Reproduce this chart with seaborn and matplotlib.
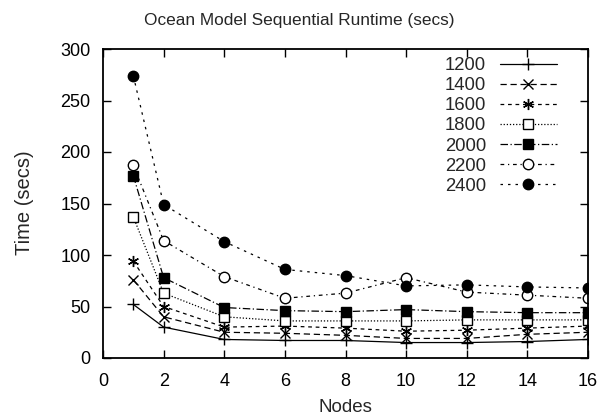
import matplotlib
matplotlib.use("Agg")
import matplotlib.pyplot as plt
import seaborn as sns
import pandas as pd

nodes = [1, 2, 4, 6, 8, 10, 12, 14, 16]
s1200 = [52, 30, 18, 17, 17, 15, 15, 16, 18]
s1400 = [76, 40, 25, 24, 22, 19, 19, 23, 25]
s1600 = [94, 50, 30, 31, 29, 26, 27, 29, 31]
s1800 = [137, 63, 40, 36, 36, 36, 37, 37, 37]
s2000 = [177, 78, 49, 46, 45, 47, 45, 44, 44]
s2200 = [187, 114, 79, 58, 63, 78, 64, 61, 58]
s2400 = [274, 149, 113, 86, 80, 70, 71, 69, 68]
series_names = ["1200", "1400", "1600", "1800", "2000", "2200", "2400"]
series_values = [s1200, s1400, s1600, s1800, s2000, s2200, s2400]

sns.set_theme(style="ticks")
plt.rcParams["font.family"] = ["Liberation Sans", "DejaVu Sans"]

W, H = 602, 417
L, R, T, B = 103, 588, 49, 358
fig = plt.figure(figsize=(W / 100, H / 100), dpi=100)
ax = fig.add_axes([L / W, 1 - B / H, (R - L) / W, (B - T) / H])

styles = [
    dict(marker="+", linestyle="-", ms=9, mfc="black"),
    dict(marker="x", linestyle=(0, (5, 3)), ms=7, mfc="black"),
    dict(marker=(6, 2, 0), linestyle=(0, (3, 3)), ms=8, mfc="black"),
    dict(marker="s", linestyle=(0, (1, 1.5)), ms=7.5, mfc="white"),
    dict(marker="s", linestyle=(0, (6, 2, 1, 2)), ms=7.5, mfc="black"),
    dict(marker="o", linestyle=(0, (3, 3, 1, 3)), ms=7.5, mfc="white"),
    dict(marker="o", linestyle=(0, (2, 4, 2, 4)), ms=7.5, mfc="black"),
]

for name, vals, st in zip(series_names, series_values, styles):
    df = pd.DataFrame({"Nodes": nodes, "Time": vals})
    sns.lineplot(data=df, x="Nodes", y="Time", ax=ax, color="black",
                 marker=st["marker"], linestyle=st["linestyle"],
                 markersize=st["ms"], markerfacecolor=st["mfc"],
                 markeredgecolor="black", markeredgewidth=1.0,
                 linewidth=0.9, legend=False)

ax.set_xlim(0, 16)
ax.set_ylim(0, 300)
ax.set_xticks(range(0, 17, 2))
ax.set_yticks(range(0, 301, 50))
ax.tick_params(direction="in", top=True, right=True, length=6, width=1,
               labelsize=13, colors="black")
ax.tick_params(axis="x", pad=11)
ax.tick_params(axis="y", pad=9)
for sp in ax.spines.values():
    sp.set_visible(True)
    sp.set_linewidth(1.3)
    sp.set_color("black")

ax.set_xlabel("Nodes", fontsize=13.5)
ax.set_ylabel("Time (secs)", fontsize=14.5)
ax.xaxis.set_label_coords(0.5, (B - 408) / (B - T))
ax.xaxis.label.set_va("center")
ax.yaxis.set_label_coords((24 - L) / (R - L), (B - 203) / (B - T))
ax.yaxis.label.set_va("center")
ax.yaxis.label.set_ha("center")

fig.text(299 / W, 1 - 20 / H, "Ocean Model Sequential Runtime (secs)",
         ha="center", va="center", fontsize=12.4)

lines = ax.get_lines()[:len(series_names)]
leg = ax.legend(lines, series_names, loc="upper right", frameon=False,
                markerfirst=False, fontsize=13.3, numpoints=1,
                handlelength=3.1, labelspacing=0.17, handletextpad=0.75,
                borderpad=0, borderaxespad=0,
                bbox_to_anchor=((557 - L) / (R - L), (B - 57) / (B - T)))

fig.savefig("out.png", dpi=100)
